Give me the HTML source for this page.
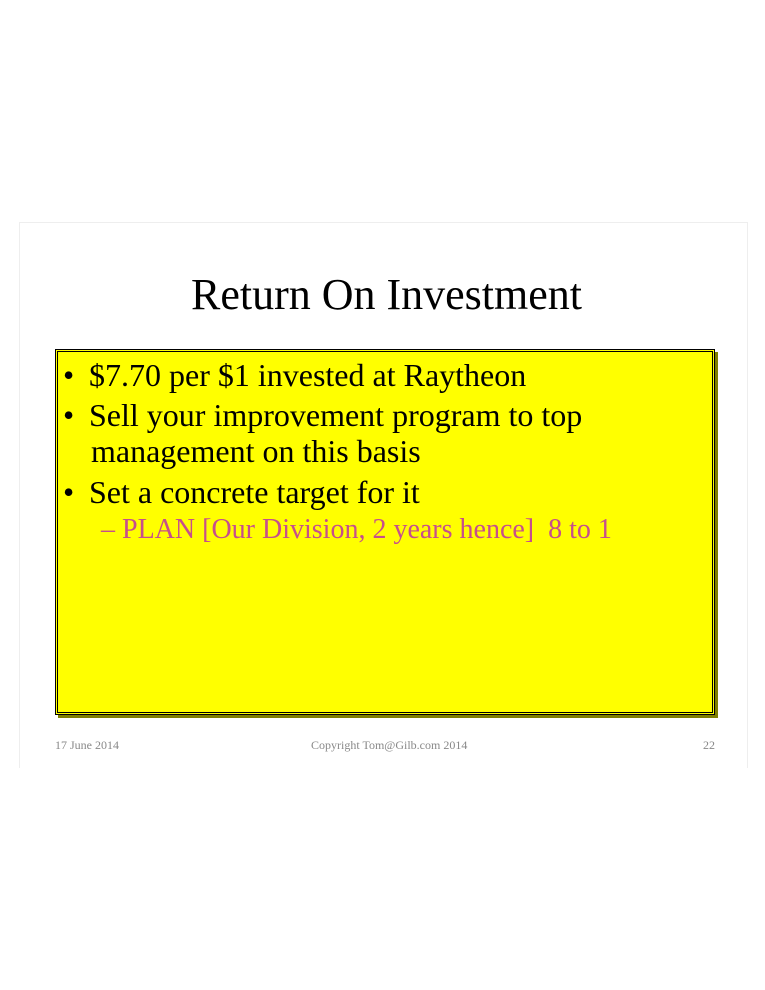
<!DOCTYPE html>
<html><head><meta charset="utf-8"><style>
body{margin:0;width:765px;height:990px;background:#fff;position:relative;font-family:"Liberation Serif",serif;overflow:hidden}
.card{position:absolute;left:19px;top:222px;width:727px;height:545px;border:1px solid #eee;border-bottom:none;background:#fff}
.title{position:absolute;left:4px;width:765px;top:270px;text-align:center;font-size:44px;line-height:50px;color:#000}
.box{position:absolute;left:55px;top:349px;width:654px;height:360px;background:#ff0;border:3px double #000;box-shadow:3px 3px 0 #808000}
.t{position:absolute;font-size:32px;line-height:36px;color:#000;white-space:nowrap}
.b{position:absolute;left:63px;font-size:32px;line-height:36px}
.foot{position:absolute;top:738px;font-size:12px;color:#888}
</style></head><body>
<div class="card"></div>
<div class="title">Return On Investment</div>
<div class="box"></div>
<div class="b" style="top:357px">•</div>
<div class="t" style="left:89px;top:357px">$7.70 per $1 invested at Raytheon</div>
<div class="b" style="top:397px">•</div>
<div class="t" style="left:89px;top:397px">Sell your improvement program to top</div>
<div class="t" style="left:91px;top:433px">management on this basis</div>
<div class="b" style="top:474px">•</div>
<div class="t" style="left:89px;top:474px">Set a concrete target for it</div>
<div class="t" style="left:101px;top:512px;font-size:28px;color:#c64f8c">– PLAN [Our Division, 2 years hence]&nbsp; 8 to 1</div>
<div class="foot" style="left:55px">17 June 2014</div>
<div class="foot" style="left:311px">Copyright Tom@Gilb.com 2014</div>
<div class="foot" style="left:703px">22</div>
</body></html>
